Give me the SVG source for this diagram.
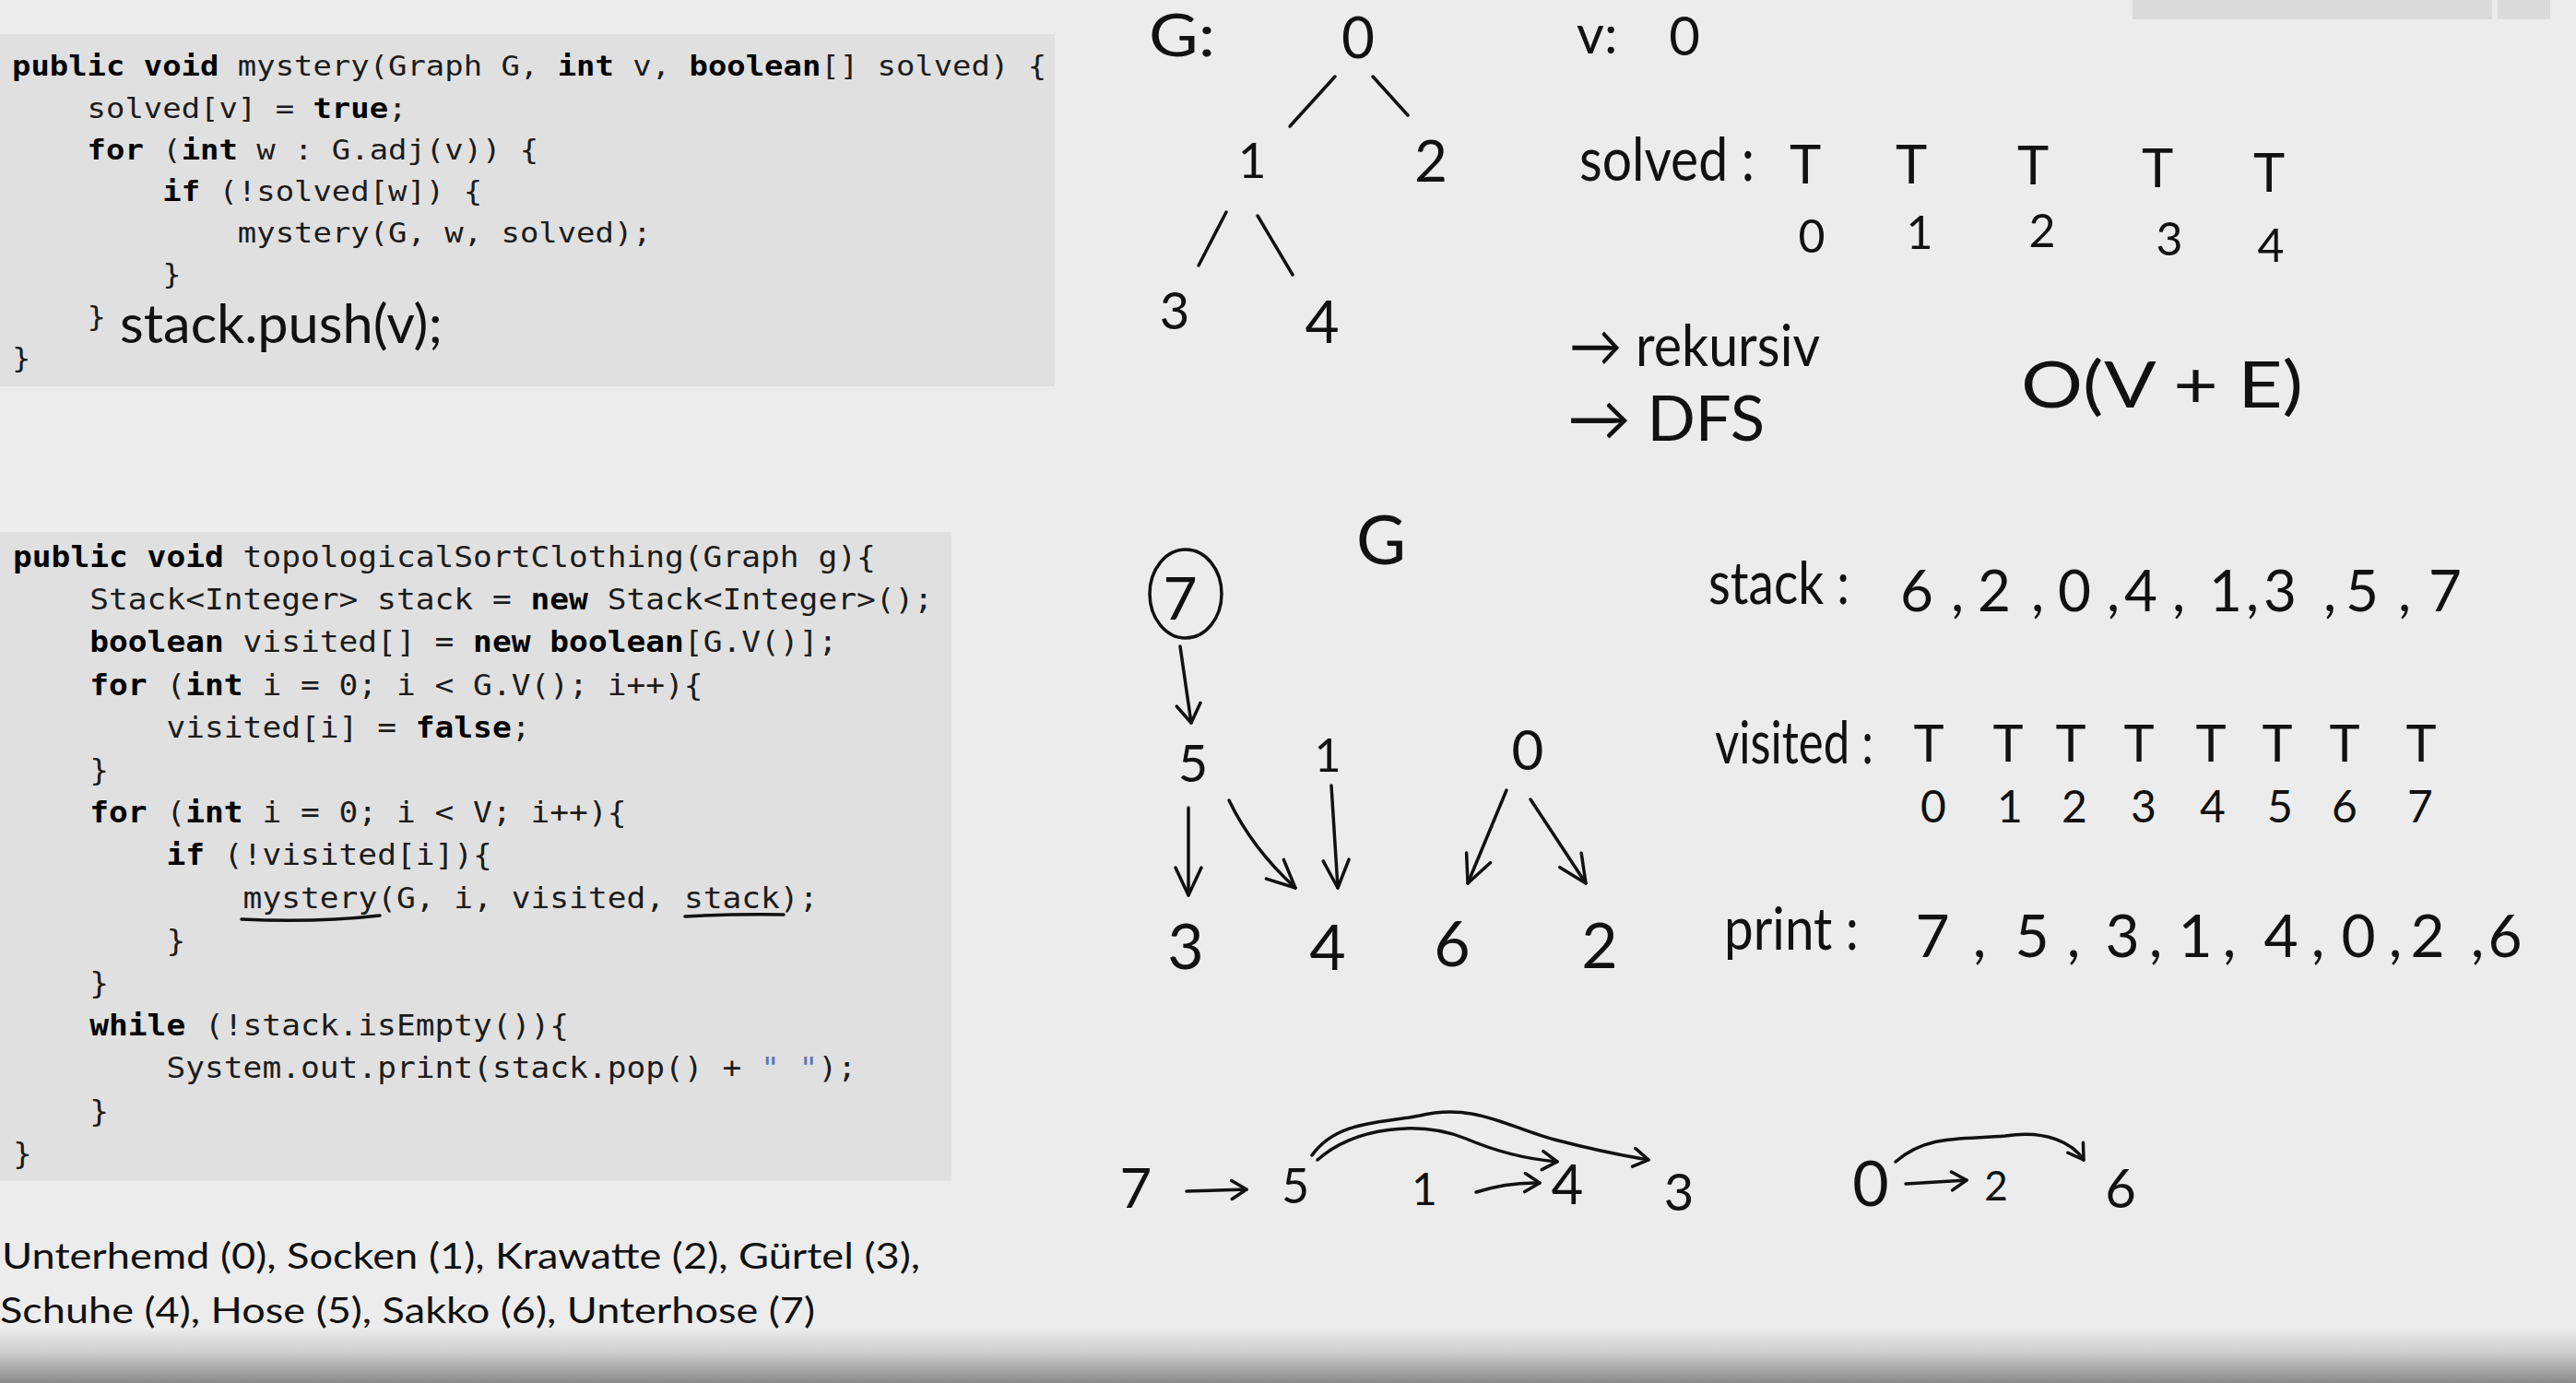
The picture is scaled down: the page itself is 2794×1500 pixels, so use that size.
<svg xmlns="http://www.w3.org/2000/svg" width="2794" height="1500" viewBox="0 0 2794 1500">
<style>
.code{font-family:"DejaVu Sans Mono","Liberation Mono",monospace;fill:#1c1c1c}
.b{font-weight:bold;fill:#000}
.str{fill:#5a78b8}
.hw{font-family:Lato,"Liberation Sans",sans-serif;font-weight:400;fill:#111}
.mid{text-anchor:middle}
.note{font-family:Lato,"Liberation Sans",sans-serif;font-size:38px;fill:#111}
.ln{fill:none;stroke:#111;stroke-width:3.5;stroke-linecap:round;stroke-linejoin:round}
.a1{marker-end:url(#ah)}
.a2{marker-end:url(#ahm)}
.a3{marker-end:url(#ahs)}
</style>
<defs>
<linearGradient id="bottomShade" x1="0" y1="0" x2="0" y2="1">
<stop offset="0" stop-color="#ececec"/>
<stop offset="0.45" stop-color="#cdcdcd"/>
<stop offset="1" stop-color="#8a8a8a"/>
</linearGradient>
<marker id="ah" markerUnits="userSpaceOnUse" viewBox="-34 -18 38 36" markerWidth="38" markerHeight="36" refX="0" refY="0" orient="auto">
<path d="M-30,-14 L0,0 L-30,14" fill="none" stroke="#111" stroke-width="3.5" stroke-linecap="round" stroke-linejoin="round"/>
</marker>
<marker id="ahm" markerUnits="userSpaceOnUse" viewBox="-24 -16 28 32" markerWidth="28" markerHeight="32" refX="0" refY="0" orient="auto">
<path d="M-20,-13 L0,0 L-20,13" fill="none" stroke="#111" stroke-width="3.5" stroke-linecap="round" stroke-linejoin="round"/>
</marker>
<marker id="ahs" markerUnits="userSpaceOnUse" viewBox="-20 -12 24 24" markerWidth="24" markerHeight="24" refX="0" refY="0" orient="auto">
<path d="M-16,-10 L0,0 L-16,10" fill="none" stroke="#111" stroke-width="3.5" stroke-linecap="round" stroke-linejoin="round"/>
</marker>
</defs>

<rect x="0" y="0" width="2794" height="1500" fill="#ececec"/>
<rect x="0" y="1440" width="2794" height="60" fill="url(#bottomShade)"/>

<g id="window-tab">
<rect x="2313" y="0" width="390" height="21" fill="#dadada"/>
<rect x="2709" y="0" width="57" height="21" fill="#dadada"/>
</g>

<g id="code-mystery">
<rect x="0" y="37" width="1144" height="382" fill="#e0e0e0"/>
<g class="code" font-size="29.5" transform="matrix(1.149 0 0 1 13 0)">
<text x="0" y="82.5"><tspan class="b">public</tspan> <tspan class="b">void</tspan> mystery(Graph G, <tspan class="b">int</tspan> v, <tspan class="b">boolean</tspan>[] solved) {</text>
<text x="71.04" y="127.7">solved[v] = <tspan class="b">true</tspan>;</text>
<text x="71.04" y="172.9"><tspan class="b">for</tspan> (<tspan class="b">int</tspan> w : G.adj(v)) {</text>
<text x="142.08" y="218.1"><tspan class="b">if</tspan> (!solved[w]) {</text>
<text x="213.12" y="263.3">mystery(G, w, solved);</text>
<text x="142.08" y="308.5">}</text>
<text x="71.04" y="353.7">}</text>
<text x="0" y="398.9">}</text>
</g>
<text class="hw" x="130" y="372" font-size="58" textLength="350" lengthAdjust="spacingAndGlyphs">stack.push(v);</text>
</g>

<g id="code-topsort">
<rect x="0" y="577" width="1032" height="704" fill="#e0e0e0"/>
<g class="code" font-size="31.5" transform="matrix(1.097 0 0 1 14 0)">
<text x="0" y="615"><tspan class="b">public</tspan> <tspan class="b">void</tspan> topologicalSortClothing(Graph g){</text>
<text x="75.85" y="661.2">Stack&lt;Integer&gt; stack = <tspan class="b">new</tspan> Stack&lt;Integer&gt;();</text>
<text x="75.85" y="707.4"><tspan class="b">boolean</tspan> visited[] = <tspan class="b">new</tspan> <tspan class="b">boolean</tspan>[G.V()];</text>
<text x="75.85" y="753.6"><tspan class="b">for</tspan> (<tspan class="b">int</tspan> i = 0; i &lt; G.V(); i++){</text>
<text x="151.7" y="799.8">visited[i] = <tspan class="b">false</tspan>;</text>
<text x="75.85" y="846">}</text>
<text x="75.85" y="892.2"><tspan class="b">for</tspan> (<tspan class="b">int</tspan> i = 0; i &lt; V; i++){</text>
<text x="151.7" y="938.4"><tspan class="b">if</tspan> (!visited[i]){</text>
<text x="227.56" y="984.6">mystery(G, i, visited, stack);</text>
<text x="151.7" y="1030.8">}</text>
<text x="75.85" y="1077">}</text>
<text x="75.85" y="1123.2"><tspan class="b">while</tspan> (!stack.isEmpty()){</text>
<text x="151.7" y="1169.4">System.out.print(stack.pop() + <tspan class="str">" "</tspan>);</text>
<text x="75.85" y="1215.6">}</text>
<text x="0" y="1261.8">}</text>
</g>
<path class="ln" stroke-width="3" d="M262,997 Q340,1001 412,993"/>
<path class="ln" stroke-width="3" d="M743,994 Q800,991 850,992"/>
</g>

<g id="legend">
<text class="note" x="2" y="1376" textLength="996" lengthAdjust="spacingAndGlyphs">Unterhemd (0), Socken (1), Krawatte (2), Gürtel (3),</text>
<text class="note" x="0" y="1435" textLength="884" lengthAdjust="spacingAndGlyphs">Schuhe (4), Hose (5), Sakko (6), Unterhose (7)</text>
</g>

<g id="tree1">
<text class="hw" x="1246" y="61" font-size="64" textLength="72" lengthAdjust="spacingAndGlyphs">G:</text>
<g id="t1-n0"><text class="hw mid" x="1473" y="63" font-size="62">0</text></g>
<g id="t1-n1"><text class="hw mid" x="1358" y="193" font-size="53">1</text></g>
<g id="t1-n2"><text class="hw mid" x="1552" y="197" font-size="62">2</text></g>
<g id="t1-n3"><text class="hw mid" x="1274" y="357" font-size="56">3</text></g>
<g id="t1-n4"><text class="hw mid" x="1434" y="372" font-size="64">4</text></g>
</g>

<g id="notes-top">
<text class="hw" x="1710" y="58" font-size="58">v:</text>
<text class="hw mid" x="1827" y="60" font-size="58">0</text>
<text class="hw" x="1713" y="196" font-size="66" textLength="190" lengthAdjust="spacingAndGlyphs">solved :</text>
<text class="hw mid" font-size="58" x="1958 2015 2073 2139 2205 2272 2340 2400 2461" y="199 199 199 200 200 201 203 205 208">T T T T T</text>
<text class="hw mid" font-size="50" x="1965 2023 2082 2148 2215 2284 2353 2408 2463" y="274 272 270 269 268 272 277 280 284">0 1 2 3 4</text>
<text class="hw" x="1702" y="397" font-size="62" textLength="272" lengthAdjust="spacingAndGlyphs">→ rekursiv</text>
<text class="hw" x="1700" y="478" font-size="68" textLength="214" lengthAdjust="spacingAndGlyphs">→ DFS</text>
<text class="hw" x="2192" y="442" font-size="70" textLength="306" lengthAdjust="spacingAndGlyphs">O(V + E)</text>
</g>

<g id="tree2">
<text class="hw mid" x="1498" y="612" font-size="74">G</text>
<g id="t2-n7"><ellipse cx="1286" cy="644" rx="39" ry="48" class="ln" stroke-width="3"/><text class="hw mid" x="1280" y="672" font-size="64">7</text></g>
<g id="t2-n5"><text class="hw mid" x="1294" y="848" font-size="56">5</text></g>
<g id="t2-n1"><text class="hw mid" x="1440" y="837" font-size="50">1</text></g>
<g id="t2-n0"><text class="hw mid" x="1657" y="835" font-size="60">0</text></g>
<g id="t2-n3"><text class="hw mid" x="1286" y="1051" font-size="68">3</text></g>
<g id="t2-n4"><text class="hw mid" x="1440" y="1052" font-size="68">4</text></g>
<g id="t2-n6"><text class="hw mid" x="1575" y="1048" font-size="68">6</text></g>
<g id="t2-n2"><text class="hw mid" x="1735" y="1050" font-size="68">2</text></g>
</g>

<g id="notes-bottom">
<text class="hw" x="1853" y="655" font-size="64" textLength="153" lengthAdjust="spacingAndGlyphs">stack :</text>
<text class="hw mid" font-size="62" x="2079 2123 2163 2210 2250 2292 2322 2363 2414 2443 2473 2527 2562 2608 2652" y="663">6,2,0,4,1,3,5,7</text>
<text class="hw" x="1860" y="828" font-size="64" textLength="172" lengthAdjust="spacingAndGlyphs">visited :</text>
<text class="hw mid" font-size="56" x="2092 2135 2178 2212 2246 2283 2320 2359 2398 2434 2470 2506 2543 2585 2626" y="826">T T T T T T T T</text>
<text class="hw mid" font-size="48" x="2097 2138 2180 2215 2250 2288 2325 2362 2400 2436 2473 2508 2543 2584 2625" y="892">0 1 2 3 4 5 6 7</text>
<text class="hw" x="1870" y="1030" font-size="64" textLength="146" lengthAdjust="spacingAndGlyphs">print :</text>
<text class="hw mid" font-size="64" x="2096 2147 2204 2249 2302 2338 2381 2418 2474 2514 2558 2598 2633 2687 2717" y="1038">7,5,3,1,4,0,2,6</text>
</g>

<g id="chain">
<g id="c-7"><text class="hw mid" x="1232" y="1310" font-size="60">7</text></g>
<g id="c-5"><text class="hw mid" x="1405" y="1305" font-size="52">5</text></g>
<g id="c-1"><text class="hw mid" x="1545" y="1307" font-size="48">1</text></g>
<g id="c-4"><text class="hw mid" x="1700" y="1306" font-size="60">4</text></g>
<g id="c-3"><text class="hw mid" x="1821" y="1313" font-size="56">3</text></g>
<g id="c-0"><text class="hw mid" x="2029" y="1308" font-size="68">0</text></g>
<g id="c-2"><text class="hw mid" x="2165" y="1302" font-size="44">2</text></g>
<g id="c-6"><text class="hw mid" x="2300" y="1310" font-size="58">6</text></g>
</g>

<g id="connectors">
<path class="ln" d="M1448,83 L1399,137"/>
<path class="ln" d="M1489,83 L1527,125"/>
<path class="ln" d="M1330,230 L1300,288"/>
<path class="ln" d="M1364,234 L1402,298"/>
<path class="ln a2" d="M1280,701 L1292,784"/>
<path class="ln a1" d="M1289,876 L1289,971"/>
<path class="ln a1" d="M1333,868 Q1358,920 1405,963"/>
<path class="ln a1" d="M1444,852 L1451,963"/>
<path class="ln a1" d="M1634,857 L1592,958"/>
<path class="ln a1" d="M1660,867 L1720,958"/>
<path class="ln a3" d="M1287,1292 L1352,1290"/>
<path class="ln a3" d="M1601,1293 Q1635,1282 1670,1283"/>
<path class="ln a3" d="M2067,1284 L2133,1280"/>
<path class="ln a3" d="M1429,1258 C1470,1222 1540,1215 1590,1235 C1630,1252 1665,1258 1689,1260"/>
<path class="ln a3" d="M1423,1253 C1450,1215 1500,1218 1540,1210 C1600,1195 1640,1225 1690,1237 C1740,1250 1770,1255 1788,1258"/>
<path class="ln a3" d="M2056,1260 C2090,1230 2130,1236 2175,1232 C2220,1225 2248,1240 2260,1258"/>
</g>
</svg>
